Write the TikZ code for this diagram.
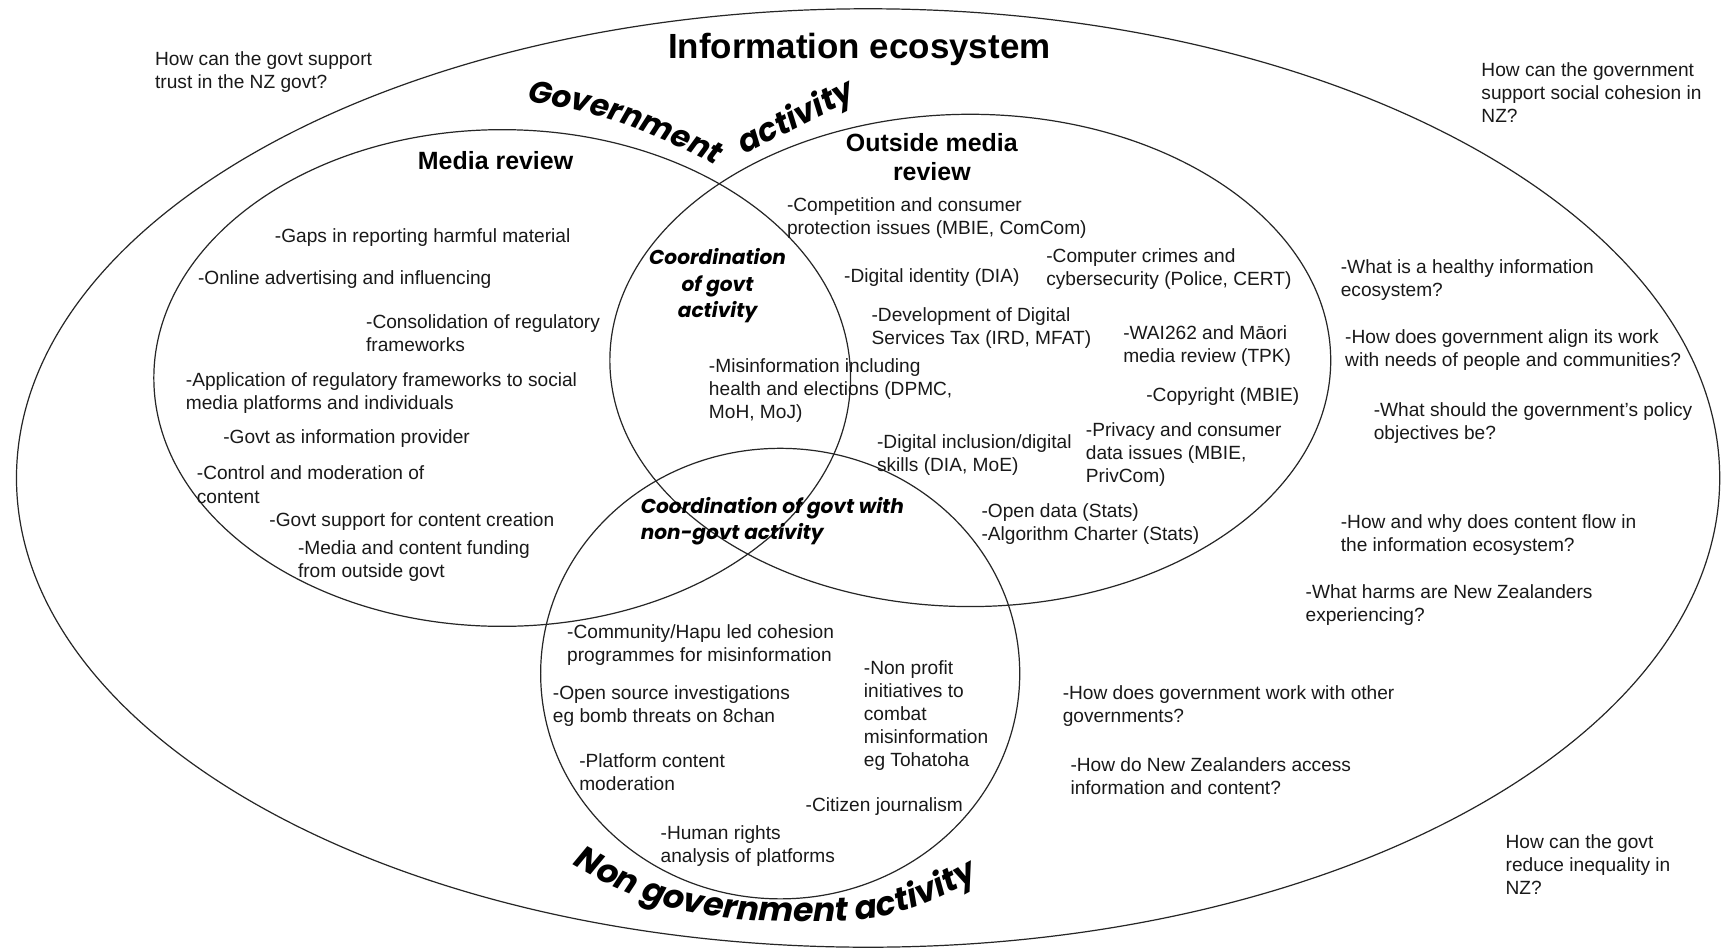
\documentclass[tikz,border=0pt]{standalone}
\usepackage{fontspec}
\setmainfont{Liberation Sans}
\newfontfamily\popfont{Poppins}
\usetikzlibrary{decorations.text}
\tikzset{
  txt/.style={anchor=north west, inner sep=0pt, align=left, text=black!90,
    font=\fontsize{17.4}{21}\selectfont},
  headtxt/.style={inner sep=0pt, align=center, text=black,
    font=\bfseries\fontsize{22.7}{26}\selectfont},
  coordtxt/.style={inner sep=0pt, align=center, text=black,
    font=\popfont\bfseries\itshape\fontsize{18.3}{24}\selectfont},
  arcword/.style={inner sep=0pt, text=black,
    font=\popfont\bfseries\itshape\fontsize{29}{29}\selectfont},
  ring/.style={draw=black!85, line width=1.1pt},
}
\begin{document}
\begin{tikzpicture}[x=1pt,y=1pt]
\fill[white] (0,0) rectangle (1568,-864);
\useasboundingbox (0,0) rectangle (1568,-864);

% ellipses
\draw[ring] (790,-435) ellipse [x radius=775pt, y radius=427pt];
\draw[ring] (457,-344) ellipse [x radius=317pt, y radius=226pt];
\draw[ring] (883,-328) ellipse [x radius=328pt, y radius=224pt];
\draw[ring] (710,-613) ellipse [x radius=218pt, y radius=205pt];

% titles
\node[headtxt, anchor=base, font=\bfseries\fontsize{31.8}{34}\selectfont] (title) at (782,-53) {Information ecosystem};
\node[headtxt, anchor=base] (media) at (451,-154) {Media review};
\node[headtxt, anchor=north] (outside) at (848,-121.5) {Outside media\\review};

\coordinate (gova) at (480,-92);
\coordinate (govb) at (670,-160);
\path[decorate, decoration={text along path, text align=left,
  text={|\popfont\bfseries\itshape\fontsize{28}{28}\selectfont|Government}}]
  (gova) to[out=-9,in=152] (govb);
\node[arcword, rotate=27] (act) at (725,-108) {activity};

\node[coordtxt] (coordgov) at (653,-260) {Coordination\\of govt\\activity};
\node[coordtxt, anchor=north west, align=left] (coordnon) at (583,-452) {Coordination of govt with\\non-govt activity};

\coordinate (nga) at (521,-787);
\coordinate (ngb) at (752,-839);
\coordinate (ngc) at (912,-786);
\path[decorate, decoration={text along path, text align=left,
  text={|\popfont\bfseries\itshape\fontsize{30}{30}\selectfont|Non government activity}}]
  (nga) to[out=-31,in=180] (ngb) to[out=0,in=-150] (ngc);

% outer questions
\node[txt] (q1) at (141,-47) {How can the govt support\\trust in the NZ govt?};
\node[txt] (q2) at (1348,-57) {How can the government\\support social cohesion in\\NZ?};
\node[txt] (q3) at (1370,-759) {How can the govt\\reduce inequality in\\NZ?};
\node[txt] (q4) at (1220,-236) {-What is a healthy information\\ecosystem?};
\node[txt] (q5) at (1224,-300) {-How does government align its work\\with needs of people and communities?};
\node[txt] (q6) at (1250,-366) {-What should the government’s policy\\objectives be?};
\node[txt] (q7) at (1220,-468) {-How and why does content flow in\\the information ecosystem?};
\node[txt] (q8) at (1188,-532) {-What harms are New Zealanders\\experiencing?};
\node[txt] (q9) at (967,-624) {-How does government work with other\\governments?};
\node[txt] (q10) at (974,-689) {-How do New Zealanders access\\information and content?};

% media review
\node[txt] (m1) at (250,-208) {-Gaps in reporting harmful material};
\node[txt] (m2) at (180,-246) {-Online advertising and influencing};
\node[txt] (m3) at (333,-286) {-Consolidation of regulatory\\frameworks};
\node[txt] (m4) at (169,-339) {-Application of regulatory frameworks to social\\media platforms and individuals};
\node[txt] (m5) at (203,-391) {-Govt as information provider};
\node[txt] (m6) at (179,-424) {-Control and moderation of\\content};
\node[txt] (m7) at (245,-466) {-Govt support for content creation};
\node[txt] (m8) at (271,-492) {-Media and content funding\\from outside govt};

% outside media review
\node[txt] (o1) at (716,-180) {-Competition and consumer\\protection issues (MBIE, ComCom)};
\node[txt] (o2) at (952,-226) {-Computer crimes and\\cybersecurity (Police, CERT)};
\node[txt] (o3) at (768,-244) {-Digital identity (DIA)};
\node[txt] (o4) at (793,-280) {-Development of Digital\\Services Tax (IRD, MFAT)};
\node[txt] (o5) at (1022,-296) {-WAI262 and Māori\\media review (TPK)};
\node[txt] (o6) at (645,-326) {-Misinformation including\\health and elections (DPMC,\\MoH, MoJ)};
\node[txt] (o7) at (1043,-353) {-Copyright (MBIE)};
\node[txt] (o8) at (988,-384) {-Privacy and consumer\\data issues (MBIE,\\PrivCom)};
\node[txt] (o9) at (798,-395) {-Digital inclusion/digital\\skills (DIA, MoE)};
\node[txt] (o10) at (893,-458) {-Open data (Stats)\\-Algorithm Charter (Stats)};

% non government
\node[txt] (n1) at (516,-568) {-Community/Hapu led cohesion\\programmes for misinformation};
\node[txt] (n2) at (786,-601) {-Non profit\\initiatives to\\combat\\misinformation\\eg Tohatoha};
\node[txt] (n3) at (503,-624) {-Open source investigations\\eg bomb threats on 8chan};
\node[txt] (n4) at (527,-686) {-Platform content\\moderation};
\node[txt] (n5) at (733,-726) {-Citizen journalism};
\node[txt] (n6) at (601,-751) {-Human rights\\analysis of platforms};
\end{tikzpicture}
\end{document}
